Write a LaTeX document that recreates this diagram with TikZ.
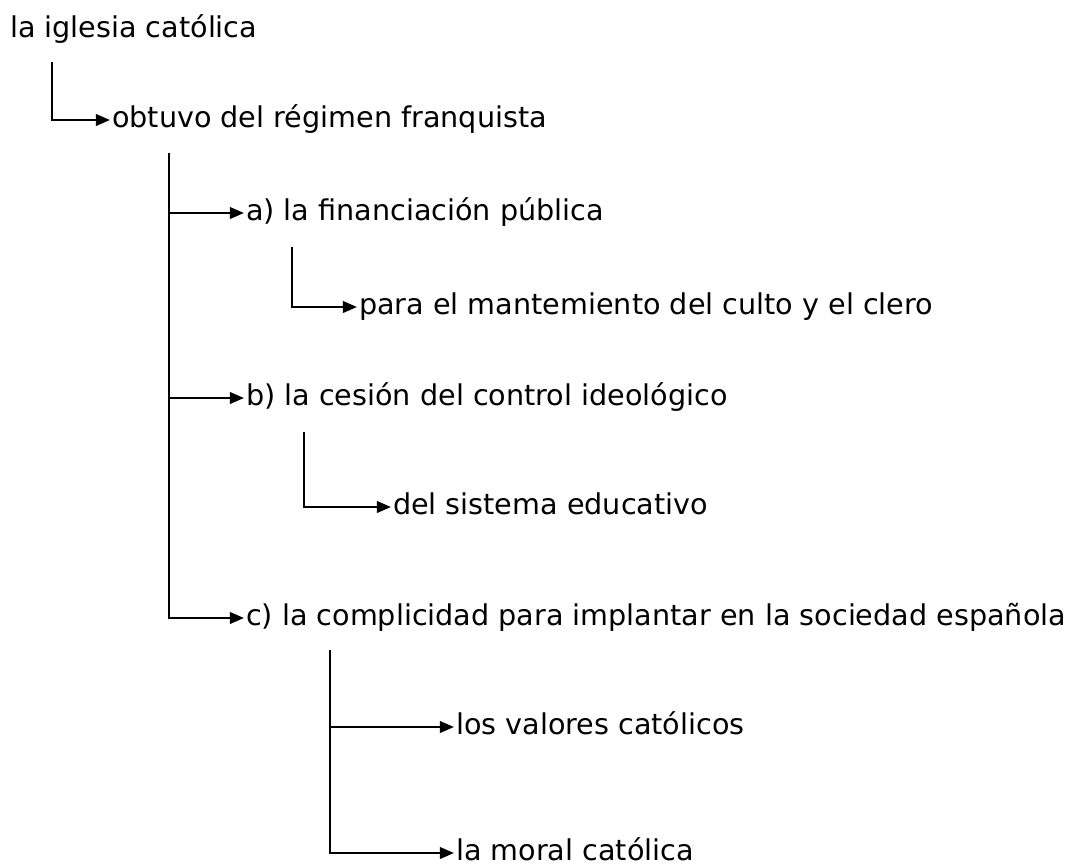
\documentclass[tikz,border=0pt]{standalone}
\usepackage{fontspec}
\setmainfont{DejaVu Sans}
\usepackage{tikz}
\usetikzlibrary{
    arrows.meta,
    positioning
}
\tikzset{
    txt/.style={anchor=mid west, inner xsep=1pt, inner ysep=0pt},
    arr/.style={-{Triangle[length=8pt, width=6.5pt]}, line width=1.4pt}
}

\begin{document}
\fontsize{16.3}{18}\selectfont
\begin{tikzpicture}[x=0.02cm, y=-0.02cm]
    \useasboundingbox (0, 0) rectangle (1075, 866);
    \node[txt] (iglesia) at (8, 30) {la iglesia católica};
    \node[txt] (obtuvo) at (110, 120) {obtuvo del régimen franquista};
    \node[txt] (fa) at (244, 213) {a) la financiación pública};
    \node[txt] (culto) at (357, 307) {para el mantemiento del culto y el clero};
    \node[txt] (cb) at (244, 398) {b) la cesión del control ideológico};
    \node[txt] (edu) at (391, 507) {del sistema educativo};
    \node[txt] (cc) at (244, 618) {c) la complicidad para implantar en la sociedad española};
    \node[txt] (valores) at (454, 727) {los valores católicos};
    \node[txt] (moral) at (454, 853) {la moral católica};
    % start points of the vertical lines
    \coordinate (s0) at (52, 62);
    \coordinate (s1) at (169, 153);
    \coordinate (s2) at (292, 247);
    \coordinate (s3) at (304, 432);
    \coordinate (s4) at (330, 650);
    \draw[arr] (s0) |- (obtuvo.mid west);
    \draw[arr] (s1) |- (fa.mid west);
    \draw[arr] (s1) |- (cb.mid west);
    \draw[arr] (s1) |- (cc.mid west);
    \draw[arr] (s2) |- (culto.mid west);
    \draw[arr] (s3) |- (edu.mid west);
    \draw[arr] (s4) |- (valores.mid west);
    \draw[arr] (s4) |- (moral.mid west);
\end{tikzpicture}
\end{document}
